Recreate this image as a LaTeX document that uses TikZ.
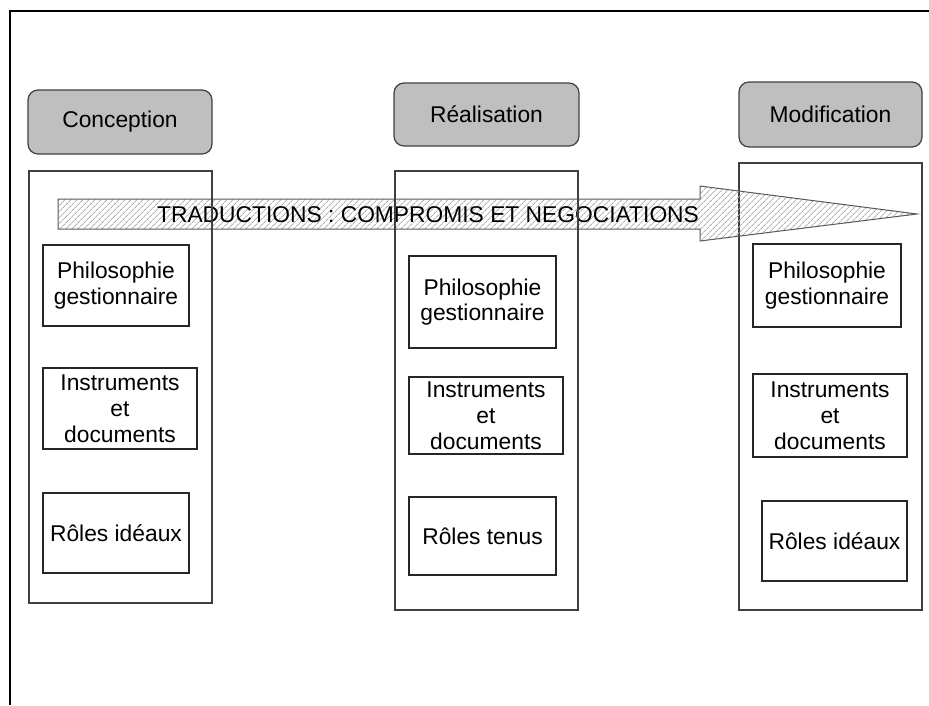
\documentclass[tikz,border=0pt]{standalone}
\usepackage{fontspec}
\setmainfont{Liberation Sans}
\usetikzlibrary{patterns.meta}
\begin{document}
\begin{tikzpicture}[x=1pt,y=-1pt,
  txt/.style={font=\fontsize{22.8}{25.8}\selectfont, align=center},
  hdr/.style={txt, draw=black!75, line width=1.2pt, fill=black!25, rounded corners=10pt, inner sep=0pt},
  col/.style={draw=black!75, line width=1.2pt, inner sep=0pt},
  item/.style={txt, draw=black!85, line width=1.1pt, inner sep=0pt},
  frame/.style={draw=black, line width=1.4pt},
  bigarrow/.style={draw=black!65, line width=1pt, pattern={Lines[angle=45,distance=4pt,line width=0.9pt]}, pattern color=black!30}
]
\useasboundingbox (0,0) rectangle (929,705);
% frame
\coordinate (fa) at (10,705);
\coordinate (fb) at (10,11);
\coordinate (fc) at (929,11);
\draw[frame] (fa) -- (fb) -- (fc);
% headers
\node[hdr, minimum width=184pt, minimum height=64pt] (hC) at (120,122) {Conception};
\node[hdr, minimum width=185pt, minimum height=63pt] (hR) at (486.5,114.5) {Réalisation};
\node[hdr, minimum width=183pt, minimum height=65pt] (hM) at (830.5,114.5) {Modification};
% Modification column (under the arrow)
\node[col, fill=white, minimum width=183pt, minimum height=447pt] (cM) at (830.5,386.5) {};
% arrow
\coordinate (a1) at (58,199);
\coordinate (a2) at (700,199);
\coordinate (a3) at (700,186);
\coordinate (a4) at (917,214);
\coordinate (a5) at (700,241);
\coordinate (a6) at (700,229);
\coordinate (a7) at (58,229);
\path[bigarrow] (a1) -- (a2) -- (a3) -- (a4) -- (a5) -- (a6) -- (a7) -- cycle;
\node[txt, inner sep=0pt] (arrowtext) at (428,215) {TRADUCTIONS : COMPROMIS ET NEGOCIATIONS};
% other columns (drawn over the arrow)
\node[col, minimum width=183pt, minimum height=432pt] (cC) at (120.5,387) {};
\node[col, minimum width=183pt, minimum height=439pt] (cR) at (486.5,390.5) {};
% Conception items
\node[item, minimum width=146pt, minimum height=81pt] (C1) at (116,285.5) {Philosophie\\gestionnaire};
\node[item, minimum width=154pt, minimum height=81pt] (C2) at (120,408.5) {Instruments\\et\\documents};
\node[item, minimum width=146pt, minimum height=80pt] (C3) at (116,533) {Rôles idéaux};
% Realisation items
\node[item, minimum width=147pt, minimum height=92pt] (R1) at (482.5,302) {Philosophie\\gestionnaire};
\node[item, minimum width=154pt, minimum height=77pt] (R2) at (486,415.5) {Instruments\\et\\documents};
\node[item, minimum width=147pt, minimum height=78pt] (R3) at (482.5,536) {Rôles tenus};
% Modification items
\node[item, minimum width=148pt, minimum height=83pt] (M1) at (827,285.5) {Philosophie\\gestionnaire};
\node[item, minimum width=154pt, minimum height=83pt] (M2) at (830,415.5) {Instruments\\et\\documents};
\node[item, minimum width=145pt, minimum height=80pt] (M3) at (834.5,541) {Rôles idéaux};
\end{tikzpicture}
\end{document}
